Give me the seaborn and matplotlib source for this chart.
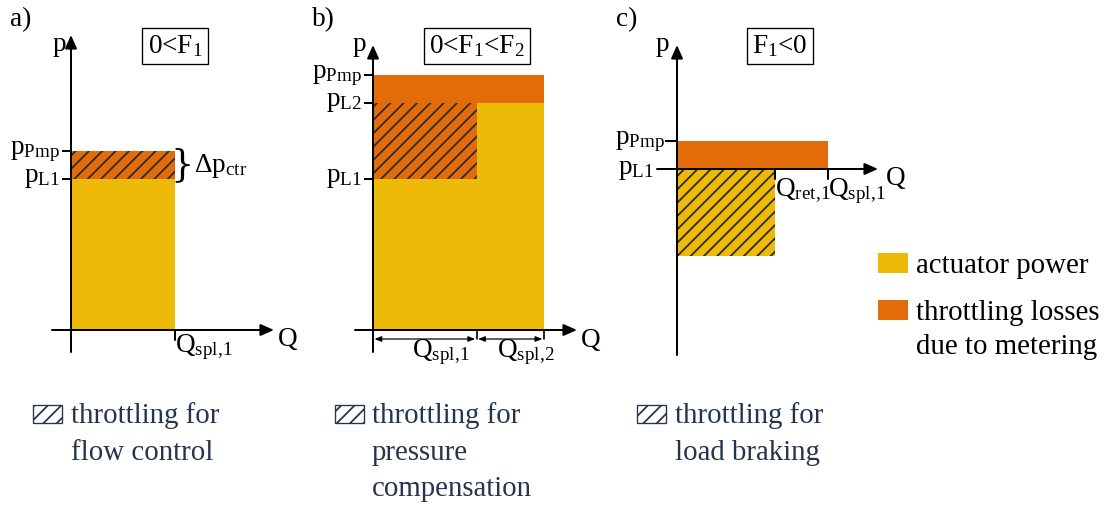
import matplotlib
matplotlib.use("Agg")
import matplotlib.pyplot as plt
import seaborn as sns
from matplotlib.patches import Rectangle

# ---------------- data (abstract p-Q diagram values) ----------------
panel_labels = ["a)", "b)", "c)"]
conditions = [r"0<F$_\mathrm{1}$", r"0<F$_\mathrm{1}$<F$_\mathrm{2}$", r"F$_\mathrm{1}$<0"]

# a) 0 < F1
a_Q_spl1 = 3.7
a_p_L1 = 5.4
a_p_Pmp = 6.4

# b) 0 < F1 < F2
b_Q_spl = [3.7, 2.4]
b_p_L1 = 5.4
b_p_L2 = 8.1
b_p_Pmp = 9.1

# c) F1 < 0
c_Q_ret1 = 3.5
c_Q_spl1 = 5.4
c_p_L1 = 0.0
c_p_Pmp = 1.0
c_brake_depth = 3.1

legend_labels = ["actuator power", "throttling losses", "due to metering"]
note_lines = [["throttling for", "flow control"],
              ["throttling for", "pressure", "compensation"],
              ["throttling for", "load braking"]]

# ---------------- style ----------------
sns.set_theme(style="white")
plt.rcParams["font.family"] = ["Liberation Serif", "DejaVu Serif"]
plt.rcParams["mathtext.fontset"] = "custom"
plt.rcParams["mathtext.rm"] = "Liberation Serif"
plt.rcParams["mathtext.it"] = "Liberation Serif:italic"
plt.rcParams["mathtext.bf"] = "Liberation Serif:bold"
plt.rcParams["hatch.linewidth"] = 1.6

YELLOW = "#ECBA07"
ORANGE = "#E36C0A"
HATCH = "#2a2a2a"
NAVY = "#25354d"
FS = 24.5
FS_TXT = 26

W, H, DPI = 1107, 506, 80
S = 28.0  # pixels per data unit

fig = plt.figure(figsize=(W / DPI, H / DPI), dpi=DPI)


def panel_ax(ox, oy):
    ax = fig.add_axes([0, 0, 1, 1])
    ax.set_xlim(-ox / S, (W - ox) / S)
    ax.set_ylim(-(H - oy) / S, oy / S)
    ax.axis("off")
    return ax


def arrow(ax, x0, y0, x1, y1):
    ax.annotate("", xy=(x1, y1), xytext=(x0, y0),
                arrowprops=dict(arrowstyle="-|>,head_length=0.5,head_width=0.22",
                                lw=1.8, color="black", shrinkA=0, shrinkB=0,
                                mutation_scale=20), zorder=5)


def u(px):
    return px / S


def sub(main, s):
    s = s.replace(",", r",\!")
    return main + r"$_\mathrm{" + s + "}$"


def rect_bar(ax, x, h, w, bottom, color, hatch=False):
    ax.bar(x, h, width=w, bottom=bottom, align="edge", color=color, lw=0, zorder=1)
    if hatch:
        ax.bar(x, h, width=w, bottom=bottom, align="edge", facecolor="none",
               edgecolor=HATCH, lw=0, hatch="//", zorder=2)


def ptick(ax, p, label, xr, tick_from):
    ax.plot([tick_from, 0], [p, p], color="black", lw=1.8, zorder=5, solid_capstyle="butt")
    ax.text(xr, p - u(3), label, ha="right", va="baseline", fontsize=FS, color="black")


def common(ax, idx, ox, y_top_px, y_bot_px, x_left_px, x_right_px, box_center_px, oy, p_right_px):
    arrow(ax, 0, -u(y_bot_px - oy), 0, u(oy - y_top_px))
    arrow(ax, -u(ox - x_left_px), 0, u(x_right_px - ox), 0)
    ax.text(u(p_right_px - ox), u(oy - 51), "p", ha="right", va="baseline",
            fontsize=FS, color="black")
    ax.text(-u(61), u(oy - 26), panel_labels[idx], ha="left", va="baseline",
            fontsize=FS, color="black")
    bx, by = box_center_px
    ax.text(u(bx - ox), u(oy - by), conditions[idx], ha="center", va="center",
            fontsize=FS, color="black",
            bbox=dict(boxstyle="square,pad=0.2", fc="white", ec="black", lw=1.2))


# ---------------- panel a ----------------
ox, oy = 71, 330
ax = panel_ax(ox, oy)
rect_bar(ax, 0, a_p_L1, a_Q_spl1, 0, YELLOW)
rect_bar(ax, 0, a_p_Pmp - a_p_L1, a_Q_spl1, a_p_L1, ORANGE, hatch=True)
common(ax, 0, ox, 35, 352, 52, 274, (175, 46), oy, 66)
ptick(ax, a_p_Pmp, sub("p", "Pmp"), -u(11), -u(9))
ptick(ax, a_p_L1, sub("p", "L1"), -u(11), -u(9))
ax.plot([a_Q_spl1, a_Q_spl1], [0, -u(10)], color="black", lw=1.8, zorder=5)
ax.text(u(278 - ox), -u(346 - oy), "Q", ha="left", va="baseline", fontsize=FS, color="black")
ax.text(a_Q_spl1, -u(352 - oy), sub("Q", "spl,1"), ha="left", va="baseline",
        fontsize=FS, color="black")
mid = (a_p_L1 + a_p_Pmp) / 2
ax.text(a_Q_spl1 + u(7), mid, "}", ha="center", va="center", fontsize=33,
        color="black", family="DejaVu Serif", fontweight="light")
ax.text(a_Q_spl1 + u(19), mid - u(7), sub("Δp", "ctr"), ha="left",
        va="baseline", fontsize=FS, color="black")

# ---------------- panel b ----------------
ox, oy = 373, 330
ax = panel_ax(ox, oy)
q1, q2 = b_Q_spl
rect_bar(ax, 0, b_p_L1, q1, 0, YELLOW)
rect_bar(ax, q1, b_p_L2, q2, 0, YELLOW)
rect_bar(ax, 0, b_p_L2 - b_p_L1, q1, b_p_L1, ORANGE, hatch=True)
rect_bar(ax, 0, b_p_Pmp - b_p_L2, q1 + q2, b_p_L2, ORANGE)
common(ax, 1, ox, 45, 352, 355, 577, (477, 46), oy, 366)
ptick(ax, b_p_Pmp, sub("p", "Pmp"), -u(11), -u(9))
ptick(ax, b_p_L2, sub("p", "L2"), -u(11), -u(9))
ptick(ax, b_p_L1, sub("p", "L1"), -u(11), -u(9))
for xq in [q1, q1 + q2]:
    ax.plot([xq, xq], [0, -u(9)], color="black", lw=1.5, zorder=5)
ydim = -u(9)
for x0, x1 in [(0, q1), (q1, q1 + q2)]:
    ax.annotate("", xy=(x1 - u(1.5), ydim), xytext=(x0 + u(1.5), ydim),
                arrowprops=dict(arrowstyle="<|-|>,head_length=0.5,head_width=0.2",
                                lw=1.1, color="black", shrinkA=0, shrinkB=0,
                                mutation_scale=10))
ax.text(q1 / 2 + u(16), -u(357 - oy), sub("Q", "spl,1"), ha="center",
        va="baseline", fontsize=FS, color="black")
ax.text(q1 + q2 / 2 + u(16), -u(357 - oy), sub("Q", "spl,2"), ha="center",
        va="baseline", fontsize=FS, color="black")
ax.text(u(581 - ox), -u(347 - oy), "Q", ha="left", va="baseline", fontsize=FS, color="black")

# ---------------- panel c ----------------
ox, oy = 677, 169
ax = panel_ax(ox, oy)
rect_bar(ax, 0, c_p_Pmp - c_p_L1, c_Q_spl1, c_p_L1, ORANGE)
rect_bar(ax, 0, -c_brake_depth, c_Q_ret1, c_p_L1, YELLOW, hatch=True)
common(ax, 2, ox, 45, 355, 657, 878, (780, 46), oy, 669)
ptick(ax, c_p_Pmp, sub("p", "Pmp"), -u(12), -u(12))
ax.text(-u(23), c_p_L1 - u(5), sub("p", "L1"), ha="right", va="baseline",
        fontsize=FS, color="black")
for xq in [c_Q_ret1, c_Q_spl1]:
    ax.plot([xq, xq], [0, -u(10)], color="black", lw=1.8, zorder=5)
ax.text(c_Q_ret1, -u(196 - oy), sub("Q", "ret,1"), ha="left", va="baseline",
        fontsize=FS, color="black")
ax.text(c_Q_spl1, -u(196 - oy), sub("Q", "spl,1"), ha="left", va="baseline",
        fontsize=FS, color="black")
ax.text(u(886 - ox), -u(185 - oy), "Q", ha="left", va="baseline", fontsize=FS, color="black")

# ---------------- legend and notes (pixel overlay) ----------------
ov = fig.add_axes([0, 0, 1, 1])
ov.set_xlim(0, W)
ov.set_ylim(H, 0)
ov.axis("off")
ov.add_patch(Rectangle((878, 253), 30, 20, fc=YELLOW, ec="none"))
ov.add_patch(Rectangle((878, 300), 30, 20, fc=ORANGE, ec="none"))
ov.text(916, 273, legend_labels[0], ha="left", va="baseline", fontsize=FS_TXT, color="black")
ov.text(916, 320, legend_labels[1], ha="left", va="baseline", fontsize=FS_TXT, color="black")
ov.text(916, 354, legend_labels[2], ha="left", va="baseline", fontsize=FS_TXT, color="black")

for (bx, tx), lines in zip([(33, 71), (335, 372), (637, 675)], note_lines):
    ov.add_patch(Rectangle((bx, 405), 29, 18, fc="white", ec=NAVY, lw=1.2, hatch="//"))
    for k, line in enumerate(lines):
        ov.text(tx, 423 + 36.5 * k, line, ha="left", va="baseline", fontsize=FS_TXT, color=NAVY)

fig.savefig("out.png", dpi=DPI)
